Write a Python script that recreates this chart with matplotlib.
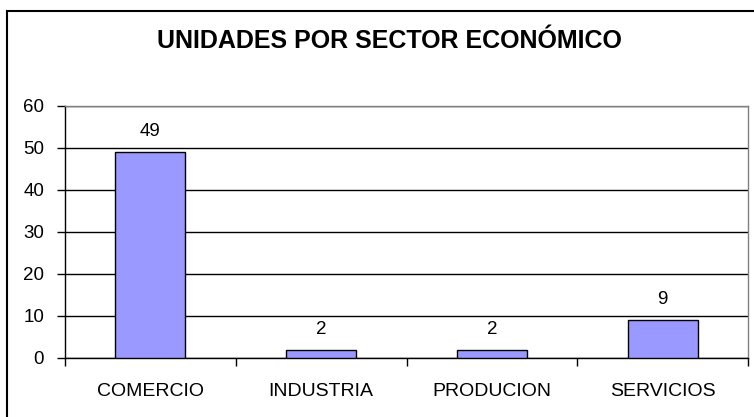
import matplotlib
matplotlib.use("Agg")
import matplotlib.pyplot as plt
from matplotlib.patches import Rectangle
import numpy as np

categories = ["COMERCIO", "INDUSTRIA", "PRODUCION", "SERVICIOS"]
values = [49, 2, 2, 9]
title = "UNIDADES POR SECTOR ECONÓMICO"

plt.rcParams['font.family'] = ['Liberation Sans', 'DejaVu Sans']

W, H = 754, 417
fig = plt.figure(figsize=(W/100, H/100), dpi=100)
ax = fig.add_axes([65/W, 1-358/H, (748-65)/W, (358-105.5)/H])

x = np.arange(len(categories))
ax.bar(x, values, width=0.41, color="#9999FF", edgecolor="black", linewidth=1, zorder=3)
for xi, v in zip(x, values):
    ax.annotate(str(v), (xi, v), xytext=(0, 11.5), textcoords="offset points",
                ha="center", va="baseline", fontsize=13.5)

ax.set_xlim(-0.5, len(categories) - 0.5)
ax.set_ylim(0, 60)
ax.set_yticks(range(0, 61, 10))
ax.yaxis.grid(True, color="black", linewidth=1)
ax.set_axisbelow(True)
ax.set_xticks(x)
ax.set_xticklabels(categories, fontsize=14)
ax.set_xticks(np.arange(-0.5, len(categories)), minor=True)
ax.tick_params(axis="x", which="major", length=0, pad=18)
ax.tick_params(axis="x", which="minor", length=6, width=1, direction="out")
ax.tick_params(axis="y", length=6, width=1, labelsize=13.5, pad=9)
ax.spines["left"].set_color("black")
ax.spines["bottom"].set_color("black")
ax.spines["top"].set_color("#808080")
ax.spines["right"].set_color("#808080")
for s in ax.spines.values():
    s.set_linewidth(1)

fig.text(389/W, 1-41/H, title, ha="center", va="center", fontsize=18, fontweight="bold")

fig.patches.append(Rectangle((6.5/W, -0.1), 2.0, 1 - 10.5/H + 0.1, transform=fig.transFigure,
                             fill=False, edgecolor="black", linewidth=1.5))

fig.savefig("out.png", dpi=100)
